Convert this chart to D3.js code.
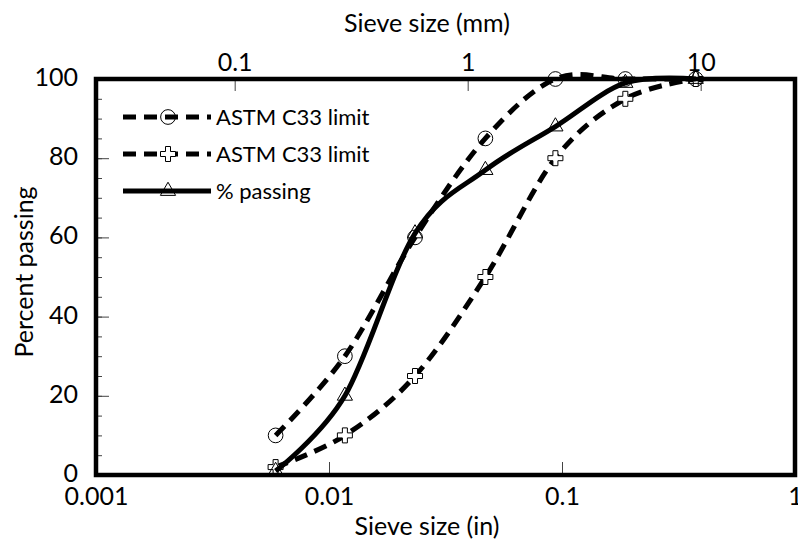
<!DOCTYPE html>
<html>
<head>
<meta charset="utf-8">
<script src="https://cdn.jsdelivr.net/npm/d3@7"></script>
<style>
    body { margin: 0; background: #fff; }
    text { font-family: Lato, 'Open Sans', sans-serif; fill: #000; }
</style>
</head>
<body>
<div class="grading-container"></div>
<script>
// sieve openings in inches (No.100 ... 3/8")
const sieveSizes = [0.0059, 0.0117, 0.0234, 0.0469, 0.0937, 0.187, 0.375];
const upperLimit = [10, 30, 60, 85, 100, 100, 100];
const lowerLimit = [2, 10, 25, 50, 80, 95, 100];
const percentPassing = [1, 20, 61, 77, 88, 99, 100];
// axis ticks
const inTicks = [0.001, 0.01, 0.1, 1];
const mmTicks = [0.1, 1, 10];
const yTicks = [0, 20, 40, 60, 80, 100];
const yMinorTicks = d3.range(0, 101, 5);
const seriesNames = ['ASTM C33 limit', 'ASTM C33 limit', '% passing'];

const series = [
    { name: seriesNames[0], values: upperLimit, symbol: d3.symbolCircle, size: 170, fill: 'none', dash: '13,8' },
    { name: seriesNames[1], values: lowerLimit, symbol: d3.symbolCross, size: 125, fill: '#fff', dash: '13,8' },
    { name: seriesNames[2], values: percentPassing, symbol: d3.symbolTriangle, size: 100, fill: 'none', dash: null }
];

setupCanvas();

function setupCanvas() {
    const svg_width = 798;
    const svg_height = 541;
    const chart_margin = { top: 79, right: 3, bottom: 66, left: 96 };
    const chart_width = svg_width - (chart_margin.left + chart_margin.right);
    const chart_height = svg_height - (chart_margin.top + chart_margin.bottom);

    const svg = d3.select('.grading-container').append('svg')
        .attr('width', svg_width).attr('height', svg_height);
    const this_svg = svg.append('g')
        .attr('transform', `translate(${chart_margin.left},${chart_margin.top})`);

    // scales
    const xScale = d3.scaleLog().domain([0.001, 1]).range([0, chart_width]);
    // top axis is the same range in mm
    const mmScale = d3.scaleLog().domain([0.001 * 25.4, 25.4]).range([0, chart_width]);
    const yScale = d3.scaleLinear().domain([0, 100]).range([chart_height, 0]);

    // axes (ticks point inside)
    const yMinor = d3.axisLeft(yScale).tickValues(yMinorTicks).tickFormat('')
        .tickSizeInner(-6).tickSizeOuter(0);
    this_svg.append('g').attr('class', 'y axis minor').call(yMinor);
    const yAxis = d3.axisLeft(yScale).tickValues(yTicks).tickFormat(d3.format('d'))
        .tickSizeInner(-13).tickSizeOuter(0).tickPadding(18);
    this_svg.append('g').attr('class', 'y axis').call(yAxis);

    const xAxis = d3.axisBottom(xScale).tickValues(inTicks).tickFormat(d => d3.format('')(d))
        .tickSizeInner(-13).tickSizeOuter(0).tickPadding(12);
    this_svg.append('g').attr('class', 'x axis')
        .attr('transform', `translate(0,${chart_height})`).call(xAxis);

    const xTop = d3.axisTop(mmScale).tickValues(mmTicks).tickFormat(d => d3.format('')(d))
        .tickSizeInner(-12).tickSizeOuter(0).tickPadding(8);
    this_svg.append('g').attr('class', 'x2 axis').call(xTop);

    this_svg.selectAll('.axis .domain').remove();
    this_svg.selectAll('.axis line').attr('stroke', '#444').attr('stroke-width', 1);
    this_svg.selectAll('.axis text').style('font-size', '25px').attr('fill', '#000');
    this_svg.selectAll('.y.axis text').attr('dy', '0.26em');

    // series: smoothed line + markers
    const line = d3.line()
        .x((d, i) => xScale(sieveSizes[i]))
        .y(d => yScale(d))
        .curve(d3.curveCatmullRom.alpha(0));

    series.forEach(s => {
        this_svg.append('path')
            .datum(s.values)
            .attr('d', line)
            .attr('fill', 'none')
            .attr('stroke', '#000')
            .attr('stroke-width', 5)
            .attr('stroke-dasharray', s.dash);
        this_svg.selectAll(null)
            .data(s.values)
            .enter()
            .append('path')
            .attr('d', d3.symbol().type(s.symbol).size(s.size))
            .attr('transform', (d, i) => `translate(${xScale(sieveSizes[i])},${yScale(d)})`)
            .attr('fill', s.fill)
            .attr('stroke', '#000')
            .attr('stroke-width', 1);
    });

    // plot frame
    this_svg.append('rect')
        .attr('width', chart_width).attr('height', chart_height)
        .attr('fill', 'none').attr('stroke', '#000').attr('stroke-width', 4.5);

    // legend
    const legend = this_svg.append('g').attr('class', 'legend')
        .attr('transform', 'translate(27,38)');
    series.forEach((s, i) => {
        const row = legend.append('g').attr('transform', `translate(0,${i * 37})`);
        row.append('line')
            .attr('x1', 0).attr('x2', 88)
            .attr('stroke', '#000').attr('stroke-width', 5)
            .attr('stroke-dasharray', s.dash);
        row.append('path')
            .attr('d', d3.symbol().type(s.symbol).size(s.size))
            .attr('transform', 'translate(45,0)')
            .attr('fill', s.fill)
            .attr('stroke', '#000').attr('stroke-width', 1);
        row.append('text')
            .attr('x', 93).attr('dy', '0.35em')
            .style('font-size', '22px')
            .text(s.name);
    });

    // axis titles
    svg.append('text').attr('x', 427).attr('y', 32)
        .style('font-size', '25px').style('text-anchor', 'middle')
        .text('Sieve size (mm)');
    svg.append('text').attr('x', 427).attr('y', 535)
        .style('font-size', '25px').style('text-anchor', 'middle')
        .text('Sieve size (in)');
    svg.append('text')
        .attr('transform', 'translate(33,272) rotate(-90)')
        .style('font-size', '25px').style('text-anchor', 'middle')
        .text('Percent passing');
}
</script>
</body>
</html>
